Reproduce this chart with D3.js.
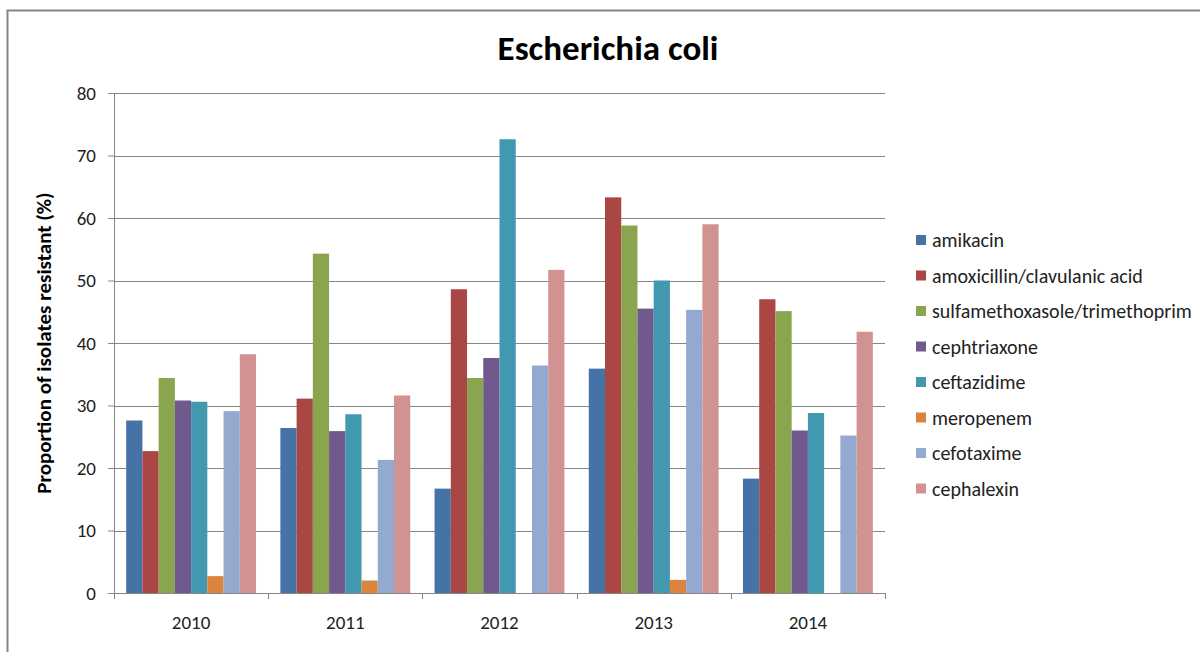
<!DOCTYPE html>
<html>
<head>
<meta charset="utf-8">
<script src="https://cdn.jsdelivr.net/npm/d3@7"></script>
<style>
  body { margin: 0; background: #fff; }
  text { font-family: Carlito, "Liberation Sans Narrow", "Open Sans", sans-serif; fill: #000; }
</style>
</head>
<body>
<div id="chart"></div>
<script>
var years = ["2010", "2011", "2012", "2013", "2014"];
var drugs = ["amikacin", "amoxicillin/clavulanic acid", "sulfamethoxasole/trimethoprim",
             "cephtriaxone", "ceftazidime", "meropenem", "cefotaxime", "cephalexin"];
var colors = ["#4572A7", "#AA4643", "#89A54E", "#71588F", "#4198AF", "#DB843D", "#93A9CF", "#D19392"];

// one array per year, same order as drugs
var v2010 = [27.6, 22.7, 34.4, 30.8, 30.6, 2.7, 29.1, 38.2];
var v2011 = [26.4, 31.1, 54.3, 25.9, 28.6, 2.0, 21.3, 31.6];
var v2012 = [16.7, 48.6, 34.4, 37.6, 72.6, 0, 36.4, 51.7];
var v2013 = [35.9, 63.3, 58.8, 45.5, 50.0, 2.1, 45.3, 59.0];
var v2014 = [18.3, 47.0, 45.1, 26.0, 28.8, 0, 25.2, 41.8];
var values = [v2010, v2011, v2012, v2013, v2014];
var yTicks = [0, 10, 20, 30, 40, 50, 60, 70, 80];

var W = 1200, H = 652;
var margin = { top: 93, left: 114, right: 315, bottom: 59 };
var width = W - margin.left - margin.right,
    height = H - margin.top - margin.bottom;

var svg = d3.select("#chart").append("svg")
    .attr("width", W)
    .attr("height", H);

// chart frame
svg.append("rect")
    .attr("x", 7.5).attr("y", 10.5)
    .attr("width", W + 10).attr("height", H + 10)
    .attr("fill", "none")
    .attr("stroke", "#868686")
    .attr("stroke-width", 2);

svg.append("text")
    .attr("x", 608).attr("y", 60)
    .attr("text-anchor", "middle")
    .style("font-size", "35px")
    .style("font-weight", "bold")
    .text("Escherichia coli");

var g = svg.append("g")
    .attr("transform", "translate(" + margin.left + "," + margin.top + ")");

var x0 = d3.scaleBand().domain(years).range([0, width]).paddingInner(0).paddingOuter(0);
var x1 = d3.scaleBand().domain(drugs).range([0, x0.bandwidth()]).paddingOuter(0.75);
var y = d3.scaleLinear().domain([0, 80]).range([height, 0]);

// gridlines
g.selectAll(".grid")
    .data(yTicks.slice(1))
    .enter().append("line")
      .attr("class", "grid")
      .attr("x1", 0).attr("x2", width)
      .attr("y1", function(d) { return Math.round(y(d)) + 0.5; })
      .attr("y2", function(d) { return Math.round(y(d)) + 0.5; })
      .attr("stroke", "#868686")
      .attr("stroke-width", 1);

// bars
var groups = g.selectAll(".year")
    .data(values)
    .enter().append("g")
      .attr("class", "year")
      .attr("transform", function(d, i) { return "translate(" + x0(years[i]) + ",0)"; });

groups.selectAll("rect")
    .data(function(d) { return d; })
    .enter().append("rect")
      .attr("x", function(d, i) { return x1(drugs[i]); })
      .attr("width", x1.bandwidth())
      .attr("y", function(d) { return y(d); })
      .attr("height", function(d) { return height - y(d); })
      .attr("fill", function(d, i) { return colors[i]; });

// y axis
var yAxis = g.append("g")
    .call(d3.axisLeft(y).tickValues(yTicks).tickSize(6).tickPadding(12));
yAxis.select(".domain").attr("stroke", "#868686");
yAxis.selectAll(".tick line").attr("stroke", "#868686");
yAxis.selectAll("text").style("font-size", "19px").style("fill", "#222");

// x axis
var xAxis = g.append("g")
    .attr("transform", "translate(0," + height + ")")
    .call(d3.axisBottom(x0).tickSize(0).tickPadding(23));
xAxis.select(".domain").attr("stroke", "#868686");
xAxis.selectAll("text").style("font-size", "19px").style("fill", "#222");

// boundary ticks between year groups
g.selectAll(".xtick")
    .data(years.concat(["end"]))
    .enter().append("line")
      .attr("x1", function(d, i) { return Math.round(i * x0.step()) + 0.5; })
      .attr("x2", function(d, i) { return Math.round(i * x0.step()) + 0.5; })
      .attr("y1", height).attr("y2", height + 6)
      .attr("stroke", "#868686");

svg.append("text")
    .attr("transform", "translate(51," + (margin.top + height / 2) + ") rotate(-90)")
    .attr("text-anchor", "middle")
    .style("font-size", "21px")
    .style("font-weight", "bold")
    .text("Proportion of isolates resistant (%)");

// legend
var legend = svg.selectAll(".legend")
    .data(drugs)
    .enter().append("g")
      .attr("class", "legend")
      .attr("transform", function(d, i) { return "translate(916," + (240 + i * 35.5) + ")"; });

legend.append("rect")
    .attr("x", 0).attr("y", -5)
    .attr("width", 10).attr("height", 10)
    .attr("fill", function(d, i) { return colors[i]; });

legend.append("text")
    .attr("x", 16).attr("y", 0)
    .attr("dy", "0.35em")
    .style("font-size", "20px")
    .style("fill", "#222")
    .text(function(d) { return d; });
</script>
</body>
</html>
